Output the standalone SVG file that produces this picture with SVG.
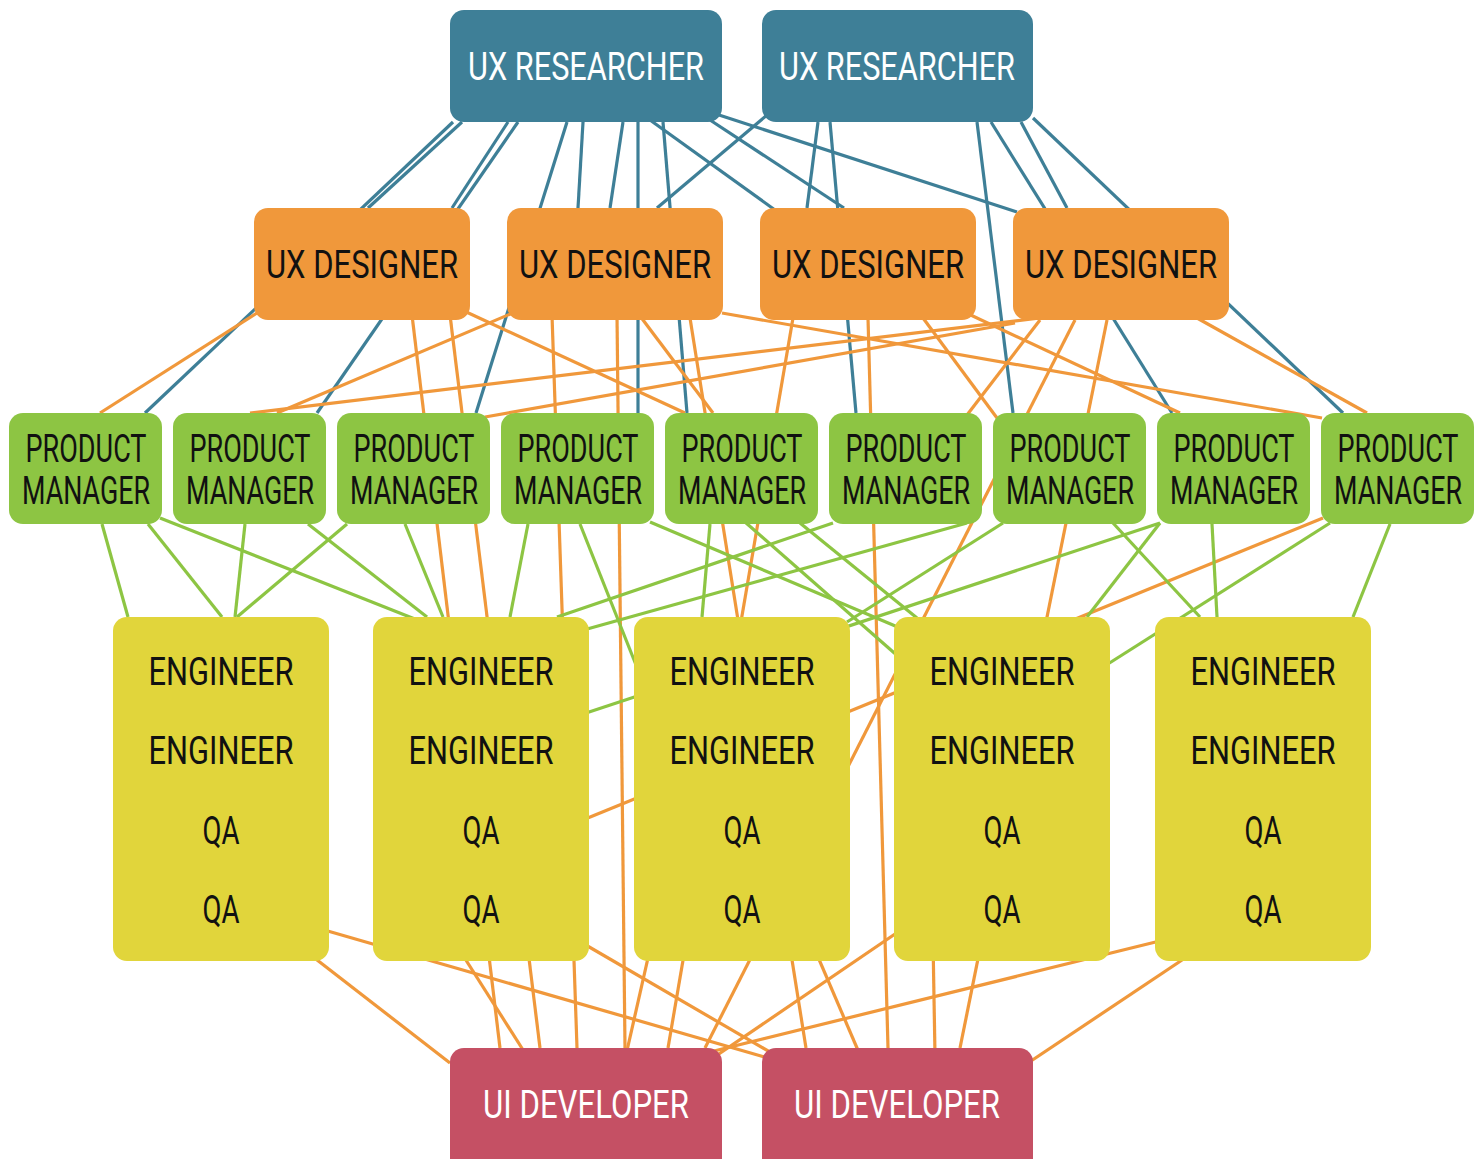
<svg xmlns="http://www.w3.org/2000/svg" width="1483" height="1159" viewBox="0 0 1483 1159">
<style>
.b{stroke:#3e7f97;stroke-width:3.2;fill:none}
.o{stroke:#f0983b;stroke-width:3.2;fill:none}
.g{stroke:#8dc543;stroke-width:3.2;fill:none}
.res{fill:#3e7f97}
.des{fill:#f0983b}
.pm{fill:#8dc543}
.eng{fill:#e1d53b}
.dev{fill:#c55064}
text{font-family:Roboto,"Liberation Sans",sans-serif;font-size:39px;text-anchor:middle}
.w{fill:#ffffff}
.k{fill:#111111}
</style>
<rect width="1483" height="1159" fill="#ffffff"/>
<g id="connectors">
<line class="b" x1="453" y1="122" x2="145" y2="413"/>
<line class="b" x1="462" y1="122" x2="368" y2="208"/>
<line class="b" x1="508" y1="122" x2="452" y2="208"/>
<line class="b" x1="518" y1="122" x2="317" y2="413"/>
<line class="b" x1="567" y1="122" x2="476" y2="413"/>
<line class="b" x1="583" y1="122" x2="578" y2="208"/>
<line class="b" x1="623" y1="122" x2="610" y2="208"/>
<line class="b" x1="638" y1="122" x2="638" y2="413"/>
<line class="b" x1="663" y1="122" x2="687" y2="413"/>
<line class="b" x1="650" y1="120" x2="775" y2="210"/>
<line class="b" x1="710" y1="120" x2="844" y2="208"/>
<line class="b" x1="719" y1="115" x2="1017" y2="212"/>
<line class="b" x1="767" y1="115" x2="657" y2="208"/>
<line class="b" x1="818" y1="122" x2="807" y2="208"/>
<line class="b" x1="830" y1="122" x2="856" y2="413"/>
<line class="b" x1="977" y1="122" x2="1013" y2="413"/>
<line class="b" x1="991" y1="122" x2="1172" y2="413"/>
<line class="b" x1="1021" y1="122" x2="1067" y2="208"/>
<line class="b" x1="1033" y1="118" x2="1343" y2="413"/>

<line class="o" x1="257" y1="313" x2="100" y2="413"/>
<line class="o" x1="412" y1="315" x2="500" y2="1048"/>
<line class="o" x1="450" y1="315" x2="540" y2="1048"/>
<line class="o" x1="462" y1="310" x2="685" y2="413"/>
<line class="o" x1="515" y1="312" x2="277" y2="413"/>
<line class="o" x1="552" y1="315" x2="577" y2="1048"/>
<line class="o" x1="617" y1="315" x2="625" y2="1048"/>
<line class="o" x1="640" y1="316" x2="713" y2="413"/>
<line class="o" x1="690" y1="318" x2="806" y2="1048"/>
<line class="o" x1="722" y1="313" x2="1322" y2="418"/>
<line class="o" x1="793" y1="318" x2="668" y2="1048"/>
<line class="o" x1="868" y1="318" x2="888" y2="1048"/>
<line class="o" x1="923" y1="318" x2="997" y2="418"/>
<line class="o" x1="960" y1="310" x2="1180" y2="413"/>
<line class="o" x1="1040" y1="318" x2="250" y2="413"/>
<line class="o" x1="1015" y1="323" x2="485" y2="417"/>
<line class="o" x1="1040" y1="320" x2="967" y2="415"/>
<line class="o" x1="1075" y1="320" x2="705" y2="1048"/>
<line class="o" x1="1107" y1="320" x2="960" y2="1048"/>
<line class="o" x1="1197" y1="318" x2="1367" y2="413"/>
<line class="o" x1="1323" y1="518" x2="480" y2="862"/>

<line class="o" x1="290" y1="939" x2="450" y2="1063"/>
<line class="o" x1="300" y1="923" x2="775" y2="1060"/>
<line class="o" x1="450" y1="935" x2="525" y2="1053"/>
<line class="o" x1="560" y1="930" x2="775" y2="1055"/>
<line class="o" x1="660" y1="905" x2="626" y2="1055"/>
<line class="o" x1="800" y1="915" x2="860" y2="1055"/>
<line class="o" x1="920" y1="917" x2="710" y2="1060"/>
<line class="o" x1="933" y1="940" x2="935" y2="1055"/>
<line class="o" x1="1180" y1="936" x2="710" y2="1052"/>
<line class="o" x1="1200" y1="948" x2="1025" y2="1065"/>

<line class="g" x1="102" y1="524" x2="128" y2="617"/>
<line class="g" x1="148" y1="524" x2="222" y2="617"/>
<line class="g" x1="160" y1="518" x2="430" y2="625"/>
<line class="g" x1="245" y1="524" x2="235" y2="617"/>
<line class="g" x1="308" y1="524" x2="427" y2="617"/>
<line class="g" x1="347" y1="524" x2="237" y2="617"/>
<line class="g" x1="405" y1="524" x2="443" y2="617"/>
<line class="g" x1="528" y1="524" x2="510" y2="617"/>
<line class="g" x1="580" y1="524" x2="640" y2="675"/>
<line class="g" x1="650" y1="522" x2="900" y2="628"/>
<line class="g" x1="710" y1="524" x2="702" y2="617"/>
<line class="g" x1="800" y1="523" x2="917" y2="618"/>
<line class="g" x1="745" y1="522" x2="900" y2="658"/>
<line class="g" x1="833" y1="523" x2="557" y2="617"/>
<line class="g" x1="967" y1="523" x2="580" y2="631"/>
<line class="g" x1="1003" y1="523" x2="847" y2="622"/>
<line class="g" x1="1160" y1="523" x2="580" y2="715"/>
<line class="g" x1="1113" y1="523" x2="1200" y2="617"/>
<line class="g" x1="1160" y1="523" x2="1087" y2="617"/>
<line class="g" x1="1212" y1="524" x2="1217" y2="617"/>
<line class="g" x1="1330" y1="523" x2="1100" y2="669"/>
<line class="g" x1="1390" y1="524" x2="1353" y2="617"/>
</g>

<g id="researcher1"><rect class="res" x="450" y="10" width="272" height="112" rx="14"/><text class="w" x="586" y="80" textLength="236" lengthAdjust="spacingAndGlyphs">UX RESEARCHER</text></g>
<g id="researcher2"><rect class="res" x="762" y="10" width="271" height="112" rx="14"/><text class="w" x="897" y="80" textLength="236" lengthAdjust="spacingAndGlyphs">UX RESEARCHER</text></g>

<g id="designer1"><rect class="des" x="254" y="208" width="216" height="112" rx="14"/><text class="k" x="362" y="278" textLength="192" lengthAdjust="spacingAndGlyphs">UX DESIGNER</text></g>
<g id="designer2"><rect class="des" x="507" y="208" width="216" height="112" rx="14"/><text class="k" x="615" y="278" textLength="192" lengthAdjust="spacingAndGlyphs">UX DESIGNER</text></g>
<g id="designer3"><rect class="des" x="760" y="208" width="216" height="112" rx="14"/><text class="k" x="868" y="278" textLength="192" lengthAdjust="spacingAndGlyphs">UX DESIGNER</text></g>
<g id="designer4"><rect class="des" x="1013" y="208" width="216" height="112" rx="14"/><text class="k" x="1121" y="278" textLength="192" lengthAdjust="spacingAndGlyphs">UX DESIGNER</text></g>

<g id="pm1"><rect class="pm" x="9" y="413" width="153" height="111" rx="14"/><text class="k" x="86" y="462" textLength="121" lengthAdjust="spacingAndGlyphs">PRODUCT</text><text class="k" x="86" y="504" textLength="128" lengthAdjust="spacingAndGlyphs">MANAGER</text></g>
<g id="pm2"><rect class="pm" x="173" y="413" width="153" height="111" rx="14"/><text class="k" x="250" y="462" textLength="121" lengthAdjust="spacingAndGlyphs">PRODUCT</text><text class="k" x="250" y="504" textLength="128" lengthAdjust="spacingAndGlyphs">MANAGER</text></g>
<g id="pm3"><rect class="pm" x="337" y="413" width="153" height="111" rx="14"/><text class="k" x="414" y="462" textLength="121" lengthAdjust="spacingAndGlyphs">PRODUCT</text><text class="k" x="414" y="504" textLength="128" lengthAdjust="spacingAndGlyphs">MANAGER</text></g>
<g id="pm4"><rect class="pm" x="501" y="413" width="153" height="111" rx="14"/><text class="k" x="578" y="462" textLength="121" lengthAdjust="spacingAndGlyphs">PRODUCT</text><text class="k" x="578" y="504" textLength="128" lengthAdjust="spacingAndGlyphs">MANAGER</text></g>
<g id="pm5"><rect class="pm" x="665" y="413" width="153" height="111" rx="14"/><text class="k" x="742" y="462" textLength="121" lengthAdjust="spacingAndGlyphs">PRODUCT</text><text class="k" x="742" y="504" textLength="128" lengthAdjust="spacingAndGlyphs">MANAGER</text></g>
<g id="pm6"><rect class="pm" x="829" y="413" width="153" height="111" rx="14"/><text class="k" x="906" y="462" textLength="121" lengthAdjust="spacingAndGlyphs">PRODUCT</text><text class="k" x="906" y="504" textLength="128" lengthAdjust="spacingAndGlyphs">MANAGER</text></g>
<g id="pm7"><rect class="pm" x="993" y="413" width="153" height="111" rx="14"/><text class="k" x="1070" y="462" textLength="121" lengthAdjust="spacingAndGlyphs">PRODUCT</text><text class="k" x="1070" y="504" textLength="128" lengthAdjust="spacingAndGlyphs">MANAGER</text></g>
<g id="pm8"><rect class="pm" x="1157" y="413" width="153" height="111" rx="14"/><text class="k" x="1234" y="462" textLength="121" lengthAdjust="spacingAndGlyphs">PRODUCT</text><text class="k" x="1234" y="504" textLength="128" lengthAdjust="spacingAndGlyphs">MANAGER</text></g>
<g id="pm9"><rect class="pm" x="1321" y="413" width="153" height="111" rx="14"/><text class="k" x="1398" y="462" textLength="121" lengthAdjust="spacingAndGlyphs">PRODUCT</text><text class="k" x="1398" y="504" textLength="128" lengthAdjust="spacingAndGlyphs">MANAGER</text></g>

<g id="team1"><rect class="eng" x="113" y="617" width="216" height="344" rx="14"/><text class="k" x="221" y="685" textLength="145" lengthAdjust="spacingAndGlyphs">ENGINEER</text><text class="k" x="221" y="764" textLength="145" lengthAdjust="spacingAndGlyphs">ENGINEER</text><text class="k" x="221" y="844" textLength="37" lengthAdjust="spacingAndGlyphs">QA</text><text class="k" x="221" y="923" textLength="37" lengthAdjust="spacingAndGlyphs">QA</text></g>
<g id="team2"><rect class="eng" x="373" y="617" width="216" height="344" rx="14"/><text class="k" x="481" y="685" textLength="145" lengthAdjust="spacingAndGlyphs">ENGINEER</text><text class="k" x="481" y="764" textLength="145" lengthAdjust="spacingAndGlyphs">ENGINEER</text><text class="k" x="481" y="844" textLength="37" lengthAdjust="spacingAndGlyphs">QA</text><text class="k" x="481" y="923" textLength="37" lengthAdjust="spacingAndGlyphs">QA</text></g>
<g id="team3"><rect class="eng" x="634" y="617" width="216" height="344" rx="14"/><text class="k" x="742" y="685" textLength="145" lengthAdjust="spacingAndGlyphs">ENGINEER</text><text class="k" x="742" y="764" textLength="145" lengthAdjust="spacingAndGlyphs">ENGINEER</text><text class="k" x="742" y="844" textLength="37" lengthAdjust="spacingAndGlyphs">QA</text><text class="k" x="742" y="923" textLength="37" lengthAdjust="spacingAndGlyphs">QA</text></g>
<g id="team4"><rect class="eng" x="894" y="617" width="216" height="344" rx="14"/><text class="k" x="1002" y="685" textLength="145" lengthAdjust="spacingAndGlyphs">ENGINEER</text><text class="k" x="1002" y="764" textLength="145" lengthAdjust="spacingAndGlyphs">ENGINEER</text><text class="k" x="1002" y="844" textLength="37" lengthAdjust="spacingAndGlyphs">QA</text><text class="k" x="1002" y="923" textLength="37" lengthAdjust="spacingAndGlyphs">QA</text></g>
<g id="team5"><rect class="eng" x="1155" y="617" width="216" height="344" rx="14"/><text class="k" x="1263" y="685" textLength="145" lengthAdjust="spacingAndGlyphs">ENGINEER</text><text class="k" x="1263" y="764" textLength="145" lengthAdjust="spacingAndGlyphs">ENGINEER</text><text class="k" x="1263" y="844" textLength="37" lengthAdjust="spacingAndGlyphs">QA</text><text class="k" x="1263" y="923" textLength="37" lengthAdjust="spacingAndGlyphs">QA</text></g>

<g id="developer1"><rect class="dev" x="450" y="1048" width="272" height="125" rx="14"/><text class="w" x="586" y="1118" textLength="206" lengthAdjust="spacingAndGlyphs">UI DEVELOPER</text></g>
<g id="developer2"><rect class="dev" x="762" y="1048" width="271" height="125" rx="14"/><text class="w" x="897" y="1118" textLength="206" lengthAdjust="spacingAndGlyphs">UI DEVELOPER</text></g>
</svg>
